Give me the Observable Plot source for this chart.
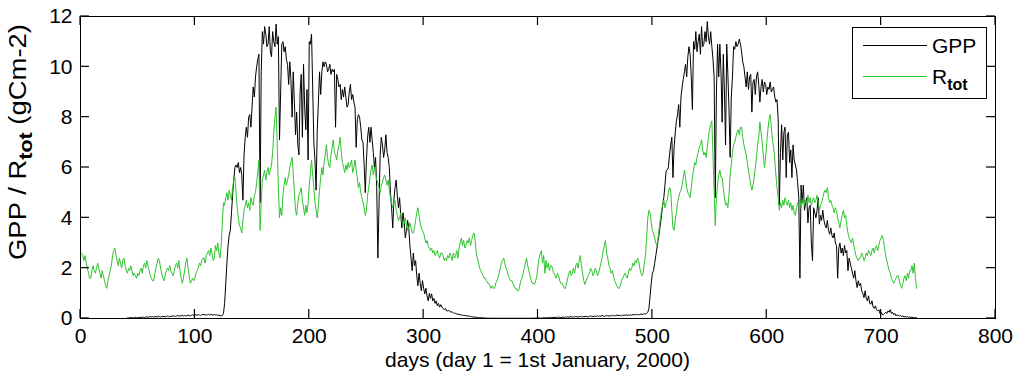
<!DOCTYPE html>
<html><head><meta charset="utf-8">
<script src="https://cdn.jsdelivr.net/npm/d3@7"></script>
<script src="https://cdn.jsdelivr.net/npm/@observablehq/plot@0.6"></script>
<style>body{margin:0;background:#fff;} svg{display:block}</style>
</head><body><div id="chart"></div>
<script>
// Daily GPP (black) and R_tot (green), gC m-2, day 1 = 1 Jan 2000
const gpp = [
0,0,0,0,0,0,0,0,0,0,
0,0,0,0,0,0,0,0,0,0,
0,0,0,0,0,0,0,0,0,0,
0,0,0,0,0,0,0,0,0,0,
0.02,0.03,0.02,0.04,0.03,0.02,0.03,0.05,0.04,0.03,
0.04,0.05,0.03,0.06,0.05,0.04,0.06,0.07,0.05,0.06,
0.07,0.06,0.08,0.05,0.07,0.08,0.06,0.09,0.07,0.06,
0.08,0.07,0.09,0.06,0.08,0.1,0.07,0.09,0.08,0.1,
0.09,0.11,0.08,0.1,0.12,0.09,0.11,0.1,0.13,0.1,
0.12,0.1,0.11,0.14,0.12,0.1,0.13,0.15,0.12,0.14,
0.15,0.13,0.16,0.14,0.12,0.15,0.17,0.14,0.16,0.13,
0.15,0.17,0.14,0.16,0.15,0.13,0.16,0.14,0.15,0.12,
0.14,0.11,0.1,0.12,0.2,0.6,1.4,2.2,2.9,3.3,
3.5,4.2,4.9,5.5,6.0,6.1,6.0,6.2,5.8,6.0,
5.7,4.7,6.5,7.2,7.6,7.2,8.0,8.1,7.6,8.4,
9.2,8.8,9.6,10.0,10.3,10.5,4.6,9.8,11.4,10.9,
11.6,11.3,10.8,10.9,11.6,10.6,10.4,11.4,11.0,10.8,
11.7,10.9,11.2,7.1,9.0,10.9,11.0,10.6,10.8,10.3,
10.1,9.3,10.2,9.5,8.0,9.8,8.6,7.3,8.2,6.9,
6.5,9.0,9.7,7.2,10.1,8.4,7.5,9.1,6.3,11.0,
10.9,11.3,9.2,7.0,6.3,5.1,7.5,8.6,9.8,8.9,
9.8,10.2,10.0,10.2,10.1,9.8,9.9,10.1,9.7,9.9,
9.8,9.9,7.6,9.7,9.5,9.2,9.3,8.7,9.1,8.8,
9.2,8.8,8.4,8.5,9.0,9.3,8.7,8.9,8.6,8.4,
6.8,7.9,8.1,8.0,7.6,7.1,7.0,6.1,5.0,6.3,
7.2,7.6,7.0,7.6,7.1,6.6,6.0,6.4,5.2,2.4,
4.5,6.5,7.2,6.9,6.4,6.7,7.3,6.6,6.4,6.0,
5.0,4.4,3.6,4.7,5.2,5.5,4.9,4.4,4.8,4.1,
3.6,4.2,3.8,3.2,3.5,3.9,3.6,2.9,2.4,1.9,
2.6,2.1,2.3,1.7,1.3,1.8,1.4,1.1,1.5,1.2,
0.98,1.2,0.9,0.7,1.0,0.8,0.98,0.7,0.8,0.6,
0.7,0.5,0.6,0.45,0.55,0.45,0.4,0.35,0.4,0.3,
0.3,0.32,0.28,0.25,0.27,0.22,0.2,0.21,0.18,0.17,
0.16,0.15,0.14,0.13,0.12,0.12,0.11,0.1,0.1,0.09,
0.08,0.07,0.06,0.06,0.05,0.05,0.04,0.04,0.03,0.03,
0.03,0.02,0.02,0.02,0.01,0.02,0.01,0.01,0.01,0.01,
0.01,0.01,0.01,0.01,0.01,0.01,0.01,0.01,0.01,0.01,
0.01,0.01,0.01,0.01,0.01,0.01,0.01,0.01,0.01,0.01,
0.01,0.01,0.01,0.01,0.01,0.01,0.01,0.01,0.01,0.01,
0.01,0.01,0.01,0.01,0.01,0.02,0.01,0.02,0.01,0.02,
0.02,0.01,0.02,0.02,0.03,0.02,0.03,0.02,0.03,0.04,
0.03,0.05,0.04,0.03,0.05,0.04,0.06,0.04,0.05,0.03,
0.05,0.06,0.04,0.06,0.05,0.07,0.05,0.06,0.08,0.05,
0.07,0.06,0.08,0.07,0.05,0.08,0.07,0.09,0.06,0.08,
0.07,0.09,0.08,0.06,0.09,0.1,0.08,0.07,0.1,0.08,
0.09,0.11,0.08,0.1,0.09,0.12,0.1,0.08,0.11,0.1,
0.12,0.09,0.11,0.1,0.13,0.11,0.1,0.12,0.14,0.11,
0.13,0.12,0.1,0.14,0.12,0.13,0.15,0.12,0.14,0.13,
0.15,0.13,0.16,0.14,0.15,0.17,0.14,0.16,0.15,0.18,
0.16,0.17,0.19,0.18,0.2,0.25,0.4,0.9,1.4,1.8,
1.9,2.2,2.5,2.8,3.1,3.4,3.75,4.1,4.5,4.8,
5.3,5.86,5.9,6.0,6.5,6.9,7.2,5.6,6.8,7.4,
7.85,8.1,8.5,7.6,8.8,9.2,9.5,9.8,10.1,9.6,
10.4,10.8,10.5,9.6,8.3,11.0,10.7,11.4,10.6,11.0,
11.3,10.5,11.6,10.8,10.9,11.4,11.0,11.8,11.2,10.9,
11.4,10.8,10.3,9.6,4.8,9.0,10.9,9.6,10.9,9.8,
7.8,10.5,9.0,6.9,10.9,9.7,8.3,6.4,8.8,9.6,
10.8,10.7,11.0,10.8,10.9,11.1,10.9,10.6,10.2,10.0,
9.6,9.2,9.8,9.1,9.6,9.7,8.2,9.4,9.5,8.9,
9.6,9.8,9.3,8.6,9.2,9.5,9.0,9.4,9.3,8.9,
9.2,9.1,9.4,9.0,9.1,9.2,8.8,8.6,8.7,7.9,
4.5,6.6,7.7,6.3,7.4,7.6,5.6,7.3,7.4,6.2,
6.7,5.6,6.9,6.3,6.1,5.9,5.4,4.8,1.6,5.3,
4.6,5.3,4.3,4.6,4.8,3.8,4.4,4.5,3.0,2.3,
4.4,4.2,4.0,4.3,4.8,3.75,4.1,3.9,4.3,3.9,
3.7,3.6,3.9,3.5,3.35,3.6,3.3,3.2,3.4,3.0,
2.9,1.6,2.8,3.0,2.6,2.8,2.5,2.9,2.6,2.7,
1.9,2.4,2.2,2.0,1.8,1.6,1.9,1.5,1.23,1.5,
1.3,1.4,1.1,1.0,0.83,1.1,0.8,0.7,0.9,0.6,
0.57,0.7,0.45,0.4,0.5,0.35,0.3,0.35,0.2,0.25,
0.15,0.15,0.2,0.25,0.2,0.3,0.25,0.35,0.2,0.25,
0.15,0.2,0.1,0.15,0.12,0.1,0.12,0.08,0.1,0.06,
0.08,0.06,0.07,0.05,0.06,0.04,0.05,0.04,0.03,0.04,
0.03
];
const rtot = [
2.6,2.5,2.3,2.5,2.2,2.0,1.8,1.6,1.6,1.9,
2.1,1.9,1.8,2.0,2.2,2.0,1.8,1.6,1.9,1.7,
1.5,1.3,1.2,1.5,1.7,1.9,2.1,2.5,2.7,2.8,
2.5,2.3,2.1,2.4,2.2,2.0,2.3,2.4,2.1,1.9,
1.8,2.0,1.9,2.1,1.9,1.7,1.8,1.7,1.6,1.8,
1.7,1.9,2.0,1.8,2.1,2.2,2.0,2.3,2.1,1.9,
1.7,1.6,1.5,1.5,1.8,2.0,2.2,2.4,2.3,2.0,
1.8,1.6,1.5,1.7,1.9,2.0,1.9,2.1,1.9,1.8,
1.7,1.9,2.1,2.2,2.0,2.3,1.9,1.6,1.4,1.6,
1.9,2.2,2.4,2.0,1.7,1.4,1.5,1.6,1.5,1.6,
1.8,1.9,2.0,2.2,2.1,2.3,2.4,2.4,2.2,2.5,
2.6,2.7,2.5,2.8,2.6,2.3,2.4,2.9,2.7,3.0,
2.6,2.4,2.9,3.8,4.6,4.5,4.8,5.0,4.7,5.1,
4.9,4.7,5.2,5.5,5.6,5.0,4.4,4.0,3.7,3.6,
3.4,3.9,4.3,4.5,4.7,4.4,4.6,4.3,4.8,4.6,
4.5,4.9,5.0,5.4,5.8,6.3,3.5,4.6,5.5,5.7,
5.9,5.5,5.8,6.0,5.7,5.9,6.1,6.6,7.4,8.0,
8.4,6.9,5.2,4.0,4.4,4.1,4.9,5.3,5.6,5.3,
5.5,5.7,6.0,6.2,6.4,5.8,5.0,4.3,4.1,4.6,
4.9,5.0,5.2,4.7,4.4,4.1,4.5,4.2,4.6,5.3,
5.8,6.3,5.7,5.2,4.6,4.3,4.0,4.5,5.1,5.6,
6.0,5.7,6.2,6.5,6.9,6.4,6.1,6.0,6.5,6.8,
7.1,6.6,6.5,6.3,6.7,6.9,7.2,6.6,6.2,6.0,
5.8,6.1,5.9,6.2,6.0,6.1,6.3,5.8,6.0,6.3,
5.9,5.6,5.2,5.4,5.0,4.8,4.6,4.4,4.1,4.3,
4.9,5.2,5.6,5.9,6.1,5.7,6.0,5.8,5.5,5.4,
5.2,5.0,5.3,5.4,5.6,5.7,5.5,5.3,5.5,5.1,
4.8,4.6,4.4,4.6,4.7,4.3,4.1,3.9,4.0,4.2,
3.9,3.7,3.8,4.0,3.7,3.5,3.6,3.8,3.6,3.4,
3.4,3.6,3.9,4.2,4.4,4.1,3.8,3.6,3.5,3.4,
3.2,3.0,3.1,2.9,2.8,2.7,2.8,2.6,2.7,2.5,
2.6,2.7,2.5,2.4,2.6,2.6,2.5,2.3,2.4,2.3,
2.5,2.4,2.6,2.5,2.3,2.6,2.4,2.5,2.7,2.4,
2.8,3.0,3.2,2.9,3.1,2.8,2.9,3.1,3.0,3.2,
2.9,3.1,3.3,3.4,3.1,2.6,2.4,2.2,2.0,1.9,
1.8,1.7,1.6,1.6,1.5,1.4,1.4,1.3,1.2,1.3,
1.2,1.2,1.4,1.5,1.6,1.8,2.0,2.2,2.3,2.4,
2.2,2.0,1.9,1.7,1.6,1.5,1.5,1.4,1.3,1.2,
1.2,1.1,1.1,1.3,1.5,1.6,1.8,2.0,2.2,2.4,
2.1,1.9,1.7,1.5,1.4,1.4,1.35,1.5,1.7,2.1,
2.4,2.6,2.7,2.2,2.5,1.8,2.3,2.0,2.2,1.9,
2.1,2.1,1.9,1.8,1.7,1.6,1.8,1.7,1.5,1.4,
1.4,1.3,1.2,1.2,1.4,1.6,1.8,1.9,1.7,1.8,
2.0,1.8,2.1,2.2,2.0,2.3,2.5,2.1,1.8,1.5,
1.35,1.5,1.6,1.7,1.8,2.0,1.9,1.7,1.8,2.0,
1.9,1.7,1.8,2.0,2.2,2.4,2.7,2.9,3.1,2.6,
2.4,2.1,2.0,1.8,1.9,1.7,1.5,1.4,1.3,1.2,
1.2,1.3,1.5,1.6,1.7,1.8,1.7,1.6,1.8,2.0,
1.9,2.0,2.2,2.1,2.3,2.2,2.4,2.3,2.0,1.8,
1.7,1.8,2.2,2.5,3.2,4.0,4.3,4.2,3.8,3.5,
3.4,3.2,3.0,2.9,3.2,3.6,4.0,4.3,4.5,4.7,
4.4,4.6,4.7,5.0,5.2,5.1,4.3,3.6,3.5,3.9,
4.2,4.6,4.8,5.0,5.1,5.3,5.6,5.9,5.6,5.2,
5.0,4.9,4.8,5.2,5.6,5.9,6.2,6.1,6.4,6.6,
6.8,6.9,7.1,6.7,6.5,6.6,6.4,6.8,7.2,7.5,
7.7,7.85,6.5,5.0,3.7,4.8,5.3,5.7,5.9,5.6,
5.6,5.2,4.8,4.5,4.6,4.4,4.9,5.7,6.1,6.6,
6.9,7.0,7.2,7.4,7.5,7.3,7.6,7.6,7.2,6.9,
6.7,6.5,6.2,5.9,5.6,5.3,5.1,5.3,5.6,6.0,
6.4,6.9,7.2,7.8,7.4,7.0,6.5,6.0,6.4,7.0,
7.5,7.9,8.1,7.6,7.1,6.8,6.3,5.7,5.2,4.8,
4.3,4.6,4.4,4.7,4.5,4.8,4.6,4.5,4.7,4.4,
4.6,4.3,4.5,4.2,4.1,4.4,4.6,4.5,4.7,4.4,
4.6,4.8,4.5,4.7,4.6,4.9,4.6,4.8,4.5,4.7,
4.8,4.6,4.7,4.9,4.6,4.3,4.5,4.6,4.8,5.0,
5.1,5.0,5.2,4.8,4.6,4.7,4.5,4.4,4.2,4.4,
4.3,4.0,3.8,3.6,3.9,4.1,4.3,4.0,4.1,3.7,
3.4,3.2,3.1,3.0,3.2,2.96,2.7,2.5,2.4,2.3,
2.4,2.4,2.6,2.5,2.3,2.4,2.6,2.5,2.7,2.6,
2.5,2.7,2.8,2.6,2.8,2.9,2.7,2.9,3.1,3.2,
3.3,3.1,2.8,2.5,2.3,2.1,1.9,1.8,1.6,1.5,
1.4,1.5,1.6,1.7,1.7,1.5,1.3,1.2,1.4,1.6,
1.7,1.5,1.8,1.6,1.9,1.9,2.1,1.8,2.2,1.6,
1.2
];
const xTicks = [0, 100, 200, 300, 400, 500, 600, 700, 800];
const yTicks = [0, 2, 4, 6, 8, 10, 12];
const xLabel = "days (day 1 = 1st January, 2000)";
const legendNames = ["GPP", "R"];
const colors = {gpp: "#000000", rtot: "#2ec42e"};

const FONT = "'Liberation Sans', Arial, Helvetica, sans-serif";
const W = 1016, H = 379, ML = 80, MR = 21, MT = 16, MB = 61;
const TICK = 9; // inward tick length, px

const plot = Plot.plot({
  width: W, height: H,
  marginLeft: ML, marginRight: MR, marginTop: MT, marginBottom: MB,
  style: {fontFamily: FONT, fontSize: "21px", background: "#fff", color: "#000", overflow: "visible"},
  x: {domain: [0, 800]},
  y: {domain: [0, 12]},
  marks: [
    Plot.lineY(gpp, {x: (d, i) => i + 1, y: d => d, stroke: colors.gpp, strokeWidth: 1}),
    Plot.lineY(rtot, {x: (d, i) => i + 1, y: d => d, stroke: colors.rtot, strokeWidth: 1}),
    Plot.frame({stroke: "#000", strokeWidth: 1}),
    Plot.axisX(xTicks, {anchor: "bottom", tickSize: 0, tickPadding: 10, label: null, fontSize: 21, tickFormat: d => String(d)}),
    Plot.axisY(yTicks, {anchor: "left", tickSize: 0, tickPadding: 8, label: null, fontSize: 21, tickFormat: d => String(d)})
  ]
});

const svg = d3.select(plot);
const xs = plot.scale("x"), ys = plot.scale("y");
const xa = xs.apply(0), xb = xs.apply(800), ya = ys.apply(0), yb = ys.apply(12);
const cx = (xa + xb) / 2;

// inward ticks on all four sides, placed with Plot's scales
const tg = svg.append("g").attr("stroke", "#000").attr("stroke-width", 1.2);
xTicks.forEach(t => {
  const px = xs.apply(t);
  tg.append("line").attr("x1", px).attr("x2", px).attr("y1", ya).attr("y2", ya - TICK);
  tg.append("line").attr("x1", px).attr("x2", px).attr("y1", yb).attr("y2", yb + TICK);
});
yTicks.forEach(t => {
  const py = ys.apply(t);
  tg.append("line").attr("x1", xa).attr("x2", xa + TICK).attr("y1", py).attr("y2", py);
  tg.append("line").attr("x1", xb).attr("x2", xb - TICK).attr("y1", py).attr("y2", py);
});

// x label
svg.append("text")
  .attr("x", cx).attr("y", 367)
  .attr("text-anchor", "middle")
  .style("font-family", FONT).style("font-size", "21px").attr("fill", "#000")
  .text(xLabel);

// y label with subscript
const yl = svg.append("text")
  .attr("transform", "translate(26,142) rotate(-90)")
  .attr("text-anchor", "middle")
  .attr("textLength", 236).attr("lengthAdjust", "spacingAndGlyphs")
  .style("font-family", FONT).style("font-size", "23px").attr("fill", "#000");
yl.append("tspan").text("GPP / R");
yl.append("tspan").attr("dy", 6).style("font-size", "18px").style("font-weight", "bold").text("tot");
yl.append("tspan").attr("dy", -6).text(" (gCm-2)");

// legend
const lg = svg.append("g").attr("text-anchor", "start");
lg.append("rect").attr("x", 852.5).attr("y", 27.5).attr("width", 134).attr("height", 71)
  .attr("fill", "#fff").attr("stroke", "#000").attr("stroke-width", 1);
lg.append("line").attr("x1", 863).attr("x2", 927).attr("y1", 45.5).attr("y2", 45.5)
  .attr("stroke", colors.gpp).attr("stroke-width", 1);
lg.append("line").attr("x1", 863).attr("x2", 927).attr("y1", 76.5).attr("y2", 76.5)
  .attr("stroke", colors.rtot).attr("stroke-width", 1);
lg.append("text").attr("x", 932).attr("y", 53).attr("text-anchor", "start")
  .style("font-family", FONT).style("font-size", "21px").attr("fill", "#000").text(legendNames[0]);
const lt = lg.append("text").attr("x", 932).attr("y", 84).attr("text-anchor", "start")
  .style("font-family", FONT).style("font-size", "21px").attr("fill", "#000");
lt.append("tspan").text(legendNames[1]);
lt.append("tspan").attr("dy", 6).style("font-size", "16px").style("font-weight", "bold").text("tot");

document.getElementById("chart").appendChild(plot);
</script>
</body></html>
